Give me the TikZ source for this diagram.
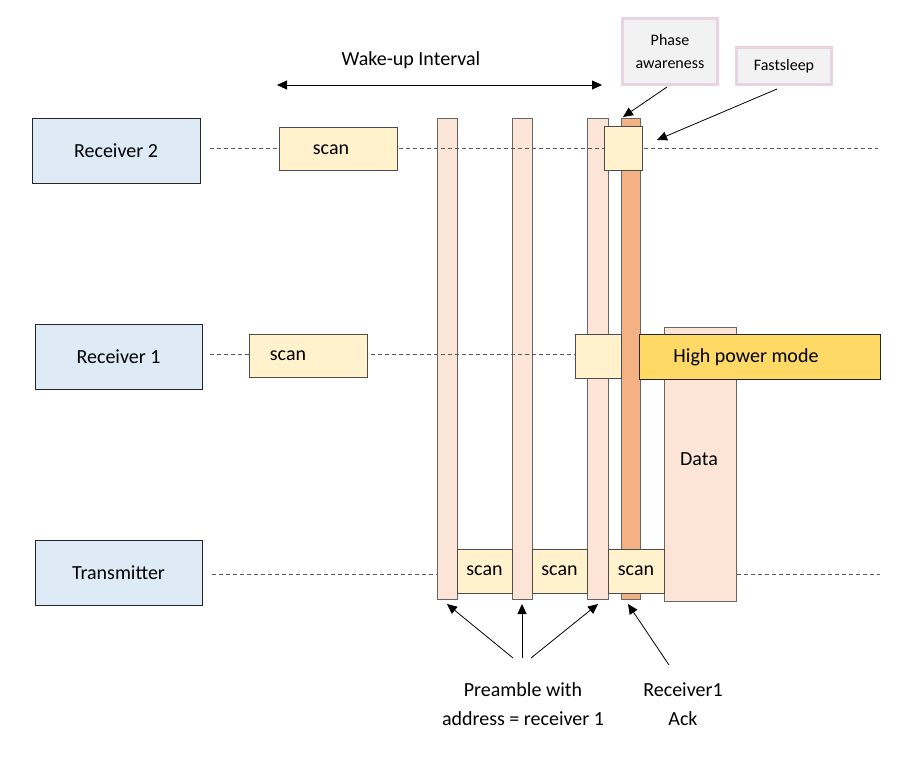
\documentclass[tikz,border=0pt]{standalone}
\usepackage{fontspec}
\setmainfont{Carlito}
\usetikzlibrary{arrows.meta}
\definecolor{rxblue}{HTML}{DEEBF7}
\definecolor{scany}{HTML}{FFF2CC}
\definecolor{peach}{HTML}{FCE4D6}
\definecolor{ackor}{HTML}{F4B183}
\definecolor{hpm}{HTML}{FFD966}
\definecolor{lblfill}{HTML}{F2F2F2}
\definecolor{lblborder}{HTML}{E8D4E0}
\begin{document}
\begin{tikzpicture}[x=1pt,y=-1pt, font=\fontsize{20}{24}\selectfont,
 box/.style={draw=black!85, line width=0.8pt, inner sep=0pt, outer sep=0pt, anchor=north west},
 rx/.style={box, fill=rxblue},
 scanbox/.style={box, fill=scany, draw=black!70},
 bar/.style={box, fill=peach, draw=black!60},
 ackbar/.style={box, fill=ackor, draw=black!60},
 hpmbox/.style={box, fill=hpm},
 lbl/.style={box, fill=lblfill, draw=lblborder, line width=3pt, font=\fontsize{16}{23}\selectfont, align=center},
 txt/.style={inner sep=0pt, align=center},
 lifeline/.style={draw=black!65, line width=0.8pt, dash pattern=on 4pt off 3pt},
 arr/.style={-{Triangle[length=10pt,width=9pt]}, line width=0.8pt},
]
\useasboundingbox (0,0) rectangle (918,778);

% actor boxes
\node[rx, minimum width=168pt, minimum height=65pt] (rx2) at (32,118) {Receiver 2};
\node[rx, minimum width=167pt, minimum height=65pt] (rx1) at (35,324) {Receiver 1};
\node[rx, minimum width=167pt, minimum height=65pt] (tx) at (35,540) {Transmitter};

% transmitter lifeline (behind bars)
\coordinate (tl1) at (212,574);
\coordinate (tl2) at (880,574);
\draw[lifeline] (tl1) -- (tl2);

% preamble bars
\node[bar, minimum width=20pt, minimum height=481pt] (b1) at (437,118) {};
\node[bar, minimum width=20pt, minimum height=481pt] (b2) at (512,118) {};
\node[bar, minimum width=21pt, minimum height=481pt] (b3) at (587,118) {};

% receiver lifelines
\coordinate (l2a) at (210,148);
\coordinate (l2b) at (878,148);
\coordinate (l1a) at (210,354);
\coordinate (l1b) at (575,354);
\draw[lifeline] (l2a) -- (l2b);
\draw[lifeline] (l1a) -- (l1b);

% receiver scans
\node[scanbox, minimum width=118pt, minimum height=43pt] (s2) at (279,127) {};
\node[txt] (s2t) at (331,150) {scan};
\node[scanbox, minimum width=118pt, minimum height=43pt] (s1) at (249,334) {};
\node[txt] (s1t) at (288,356) {scan};

% data
\node[bar, minimum width=72pt, minimum height=274pt] (data) at (664,327) {};
\node[txt] (datat) at (699,459) {Data};

% ack bar
\node[ackbar, minimum width=19pt, minimum height=481pt] (ack) at (621,118) {};

% small boxes
\node[scanbox, minimum width=46pt, minimum height=44pt] (r1small) at (575,334) {};
\node[scanbox, minimum width=38pt, minimum height=44pt] (r2small) at (604,126) {};

% high power mode
\node[hpmbox, minimum width=241pt, minimum height=45pt] (hp) at (639,334) {};
\node[txt] (hpt) at (746,357) {High power mode};

% transmitter scans
\node[scanbox, minimum width=55pt, minimum height=44pt] (ts1) at (457,549) {scan};
\node[scanbox, minimum width=55pt, minimum height=44pt] (ts2) at (532,549) {scan};
\node[scanbox, minimum width=56pt, minimum height=44pt] (ts3) at (608,549) {scan};

% label boxes
\node[lbl, minimum width=95pt, minimum height=66pt] (phase) at (622.5,18.5) {Phase\\awareness};
\node[lbl, minimum width=95pt, minimum height=37pt] (fs) at (736.5,47.5) {Fastsleep};

\coordinate (pas) at (667,87);
\coordinate (pat) at (623,117);
\draw[arr] (pas) -- (pat);
\coordinate (fss) at (777,89);
\coordinate (fst) at (657,140);
\draw[arr] (fss) -- (fst);

% wake-up interval
\node[txt] (wu) at (411,60) {Wake-up Interval};
\coordinate (wl) at (277,85);
\coordinate (wr) at (602,85);
\draw[line width=0.8pt, {Triangle[length=10pt,width=9pt]}-{Triangle[length=10pt,width=9pt]}] (wl) -- (wr);

% bottom labels
\node[txt, font=\fontsize{20}{29}\selectfont] (pre) at (523,704) {Preamble with\\address = receiver 1};
\node[txt, font=\fontsize{20}{29}\selectfont] (acklbl) at (683,704) {Receiver1\\Ack};

\coordinate (p1s) at (513,658);
\coordinate (p1t) at (447,604);
\coordinate (p2s) at (522,658);
\coordinate (p2t) at (522,604);
\coordinate (p3s) at (531,658);
\coordinate (p3t) at (598,604);
\coordinate (a1s) at (669,665);
\coordinate (a1t) at (628,604);
\draw[arr] (p1s) -- (p1t);
\draw[arr] (p2s) -- (p2t);
\draw[arr] (p3s) -- (p3t);
\draw[arr] (a1s) -- (a1t);
\end{tikzpicture}
\end{document}
